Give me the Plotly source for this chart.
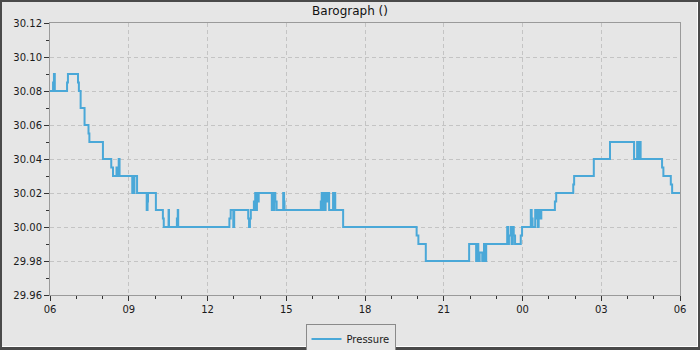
import plotly.graph_objects as go
from datetime import datetime, timedelta

# ---- data (clock time, pressure inHg) ----
times = ["06:00","06:07","06:09","06:11","06:39","06:41","07:04","07:06","07:10","07:19",
         "07:28","07:30","08:01","08:20","08:24","08:32","08:35","08:37","08:39","09:08",
         "09:10","09:11","09:13","09:19","09:41","09:43","09:44","10:02","10:18","10:20",
         "10:31","10:32","10:50","10:51","10:52","10:53","12:50","12:53","12:59","13:01",
         "13:33","13:35","13:37","13:39","13:46","13:48","13:49","13:51","13:53","13:55",
         "13:57","14:27","14:29","14:31","14:33","14:35","14:38","14:53","14:55","14:56",
         "16:19","16:21","16:23","16:25","16:28","16:30","16:33","16:36","16:38","16:47",
         "16:50","16:51","16:52","17:10","19:58","20:02","20:19","21:58","22:14","22:17",
         "22:19","22:22","22:28","22:32","22:34","22:37","23:25","23:27","23:29","23:33",
         "23:35","23:38","23:40","23:43","23:56","23:59","00:19","00:21","00:23","00:29",
         "00:31","00:33","00:35","00:37","00:40","00:43","00:46","01:14","01:17","01:56",
         "01:58","02:43","03:20","04:15","04:22","04:25","04:27","04:30","05:19","05:22",
         "05:39","05:42","06:00"]
pressure = [30.080,30.085,30.090,30.080,30.085,30.090,30.085,30.080,30.070,30.060,
            30.055,30.050,30.040,30.035,30.030,30.035,30.030,30.040,30.030,30.020,
            30.030,30.020,30.030,30.020,30.010,30.015,30.020,30.010,30.005,30.000,
            30.010,30.000,30.005,30.000,30.010,30.000,30.005,30.010,30.000,30.010,
            30.005,30.000,30.005,30.010,30.015,30.010,30.020,30.010,30.020,30.015,
            30.020,30.010,30.020,30.010,30.020,30.015,30.010,30.020,30.015,30.010,
            30.015,30.020,30.010,30.020,30.010,30.020,30.015,30.020,30.010,30.020,
            30.010,30.020,30.010,30.000,29.995,29.990,29.980,29.990,29.980,29.990,
            29.980,29.985,29.980,29.990,29.980,29.990,30.000,29.990,29.995,30.000,
            29.990,30.000,29.995,29.990,29.995,30.000,30.010,30.005,30.000,30.010,
            30.005,30.010,30.000,30.010,30.005,30.010,30.010,30.015,30.020,30.025,
            30.030,30.040,30.050,30.040,30.050,30.040,30.050,30.040,30.035,30.030,
            30.025,30.020,30.020]

x_tick_step_hours = 3
y_tick_values = [29.96, 29.98, 30.00, 30.02, 30.04, 30.06, 30.08, 30.10, 30.12]

# build datetimes with day rollover
start = datetime(2024, 1, 1, 6, 0)
xs = []
day = 0
prev = None
for i, t in enumerate(times):
    h, m = map(int, t.split(":"))
    cur = h * 60 + m
    if prev is not None and cur < prev:
        day += 1
    if i == len(times) - 1 and day == 0:
        day = 1
    prev = cur
    xs.append(datetime(2024, 1, 1 + day, h, m))
end = start + timedelta(days=1)

FONT = "DejaVu Sans"
fig = go.Figure()
fig.add_trace(go.Scatter(
    x=xs, y=pressure, mode="lines", name="Pressure",
    line=dict(color="#4aa8d8", width=2, shape="hv"),
    hoverinfo="skip",
))

W, H = 630.0, 272.0
L, T = 50.0, 23.0
def px(X):
    return (X - L) / W
def py(Y):
    return (T + H - Y) / H

dark = "#4a4a4a"
shapes = [
    dict(type="rect", xref="paper", yref="paper", x0=px(0), x1=px(2), y0=py(350), y1=py(0),
         fillcolor=dark, line=dict(width=0)),
    dict(type="rect", xref="paper", yref="paper", x0=px(0), x1=px(700), y0=py(2), y1=py(0),
         fillcolor=dark, line=dict(width=0)),
    dict(type="rect", xref="paper", yref="paper", x0=px(698), x1=px(700), y0=py(350), y1=py(0),
         fillcolor=dark, line=dict(width=0)),
    dict(type="rect", xref="paper", yref="paper", x0=px(0), x1=px(700), y0=py(350), y1=py(347),
         fillcolor=dark, line=dict(width=0)),
    dict(type="rect", xref="paper", yref="paper", x0=px(697), x1=px(698), y0=py(347), y1=py(2),
         fillcolor="#ffffff", line=dict(width=0)),
    dict(type="rect", xref="paper", yref="paper", x0=px(2), x1=px(698), y0=py(347), y1=py(346),
         fillcolor="#ffffff", line=dict(width=0)),
]

GRID_DASH = "4px,3px"
fig.update_layout(
    width=700, height=350,
    margin=dict(l=50, r=20, t=23, b=55, autoexpand=False),
    paper_bgcolor="#e6e6e6", plot_bgcolor="#e6e6e6",
    font=dict(family=FONT, size=10, color="#1a1a1a"),
    title=dict(text="Barograph ()", x=0.5, xanchor="center", y=1 - 11 / 350, yanchor="middle",
               font=dict(family=FONT, size=12, color="#111111")),
    showlegend=True,
    legend=dict(orientation="h", x=px(350.5), xanchor="center", y=py(339), yanchor="middle",
                bgcolor="#e6e6e6", bordercolor="#8a8a8a", borderwidth=1,
                font=dict(family=FONT, size=10, color="#1a1a1a"), itemwidth=30),
    shapes=shapes,
    xaxis=dict(
        type="date", range=[start, end], tick0=start, dtick=x_tick_step_hours * 3600000,
        tickformat="%H", showline=True, mirror=True, linecolor="#9a9a9a", linewidth=1,
        ticks="outside", ticklen=5, tickcolor="#333333",
        showgrid=True, gridcolor="#c4c4c4", griddash=GRID_DASH, gridwidth=1,
        minor=dict(dtick=3600000, ticklen=3, tickcolor="#333333", showgrid=False),
        zeroline=False, fixedrange=True,
    ),
    yaxis=dict(
        range=[29.96, 30.12], tickmode="array", tickvals=y_tick_values,
        ticktext=[f"{v:.2f}" for v in y_tick_values],
        showline=True, mirror=True, linecolor="#9a9a9a", linewidth=1,
        ticks="outside", ticklen=5, tickcolor="#333333",
        showgrid=True, gridcolor="#c4c4c4", griddash=GRID_DASH, gridwidth=1,
        minor=dict(dtick=0.01, tick0=29.96, ticklen=3, tickcolor="#333333", showgrid=False),
        zeroline=False, fixedrange=True,
    ),
)

fig.write_html("out.html")
